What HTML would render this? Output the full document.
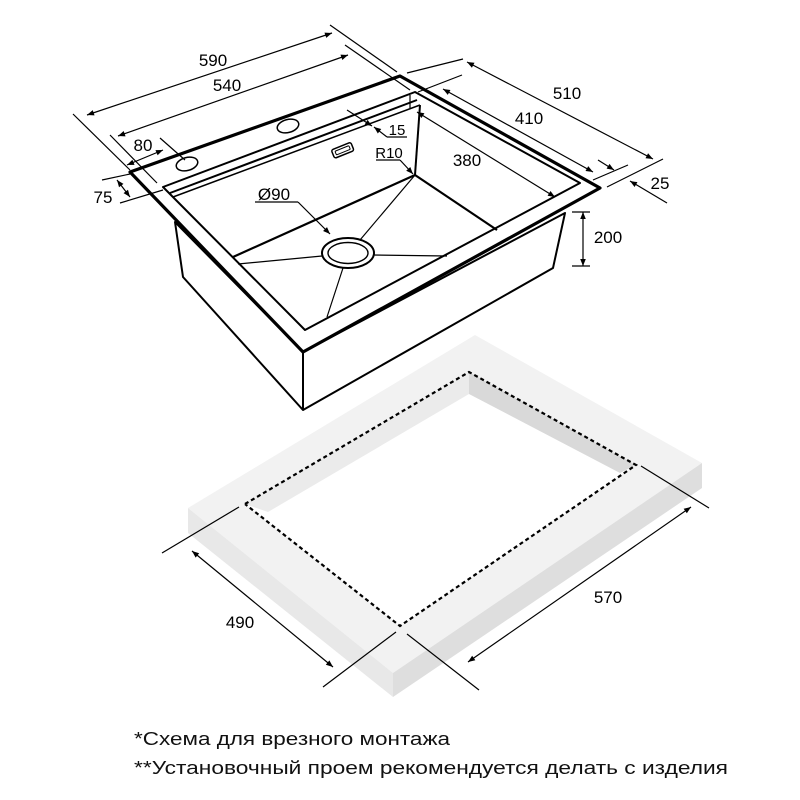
<!DOCTYPE html>
<html><head><meta charset="utf-8"><style>html,body{margin:0;padding:0;background:#fff}svg{display:block}</style></head>
<body>
<svg width="800" height="800" viewBox="0 0 800 800" xmlns="http://www.w3.org/2000/svg" font-family="Liberation Sans, DejaVu Sans, sans-serif">
<defs>
<marker id="a" viewBox="0 0 10 10" refX="10" refY="5" markerWidth="9" markerHeight="7" orient="auto-start-reverse" markerUnits="userSpaceOnUse"><path d="M0,1 L10,5 L0,9 z" fill="#000"/></marker>
</defs>
<!-- Countertop -->
<polygon points="188,508 475,335 702,463 393,673" fill="#f2f2f2"/>
<polygon points="188,508 393,673 393,697 188,533" fill="#e8e8e8"/>
<polygon points="393,673 702,463 702,488 393,697" fill="#dedede"/>
<polygon points="245,504 469,372 636,465 400,626" fill="#fff"/>
<polygon points="245,504 469,372 469,394 268,512" fill="#ebebeb"/>
<polygon points="469,372 636,465 620,473 469,394" fill="#d9d9d9"/>
<polyline points="245,504 469,372 636,465 400,626 245,504" fill="none" stroke="#000" stroke-width="2.2" stroke-dasharray="4,3"/>
<g stroke="#000" stroke-width="1.2" fill="none">
<line x1="162" y1="553" x2="239" y2="507"/>
<line x1="323" y1="687" x2="396" y2="632"/>
<line x1="192" y1="551" x2="333" y2="667" marker-start="url(#a)" marker-end="url(#a)"/>
<line x1="407" y1="634" x2="479" y2="690"/>
<line x1="641" y1="466" x2="709" y2="508"/>
<line x1="468" y1="662" x2="691" y2="507" marker-start="url(#a)" marker-end="url(#a)"/>
</g>
<text x="240" y="628" font-size="17" text-anchor="middle">490</text>
<text x="608" y="603" font-size="17" text-anchor="middle">570</text>
<!-- Sink bowl exterior -->
<g fill="#fff" stroke="#000" stroke-linejoin="round">
<polygon points="175,222 183,277 303,410 553,268 565,213 303,352" stroke-width="2"/>
<line x1="303" y1="352" x2="303" y2="410" stroke-width="2"/>
<polygon points="130,172 400,76 600,188 303,352" stroke-width="3.2"/>
<polygon points="163,187 415,92 580,183 305,330" stroke-width="2"/>
</g>
<g stroke="#000" fill="none">
<line x1="170" y1="193" x2="417" y2="100" stroke-width="2"/>
<line x1="173" y1="197" x2="420" y2="105" stroke-width="1.5"/>
<line x1="420" y1="105" x2="415" y2="175" stroke-width="2"/>
<line x1="415" y1="175" x2="233" y2="257" stroke-width="2.2"/>
<line x1="415" y1="175" x2="497" y2="230" stroke-width="2.2"/>
<line x1="410" y1="108" x2="410" y2="95" stroke-width="1.2"/>
<line x1="415" y1="175" x2="360" y2="240" stroke-width="1.2"/>
<line x1="238" y1="264" x2="322" y2="256" stroke-width="1.2"/>
<line x1="327" y1="317" x2="343" y2="268" stroke-width="1.2"/>
<line x1="373" y1="255" x2="447" y2="256" stroke-width="1.2"/>
</g>
<ellipse cx="348" cy="253" rx="26" ry="15" fill="#fff" stroke="#000" stroke-width="2"/>
<ellipse cx="348" cy="253" rx="20" ry="10.5" fill="#fff" stroke="#000" stroke-width="1.4"/>
<ellipse cx="187" cy="164" rx="11" ry="6.5" fill="#fff" stroke="#000" stroke-width="1.5" transform="rotate(-15 187 164)"/>
<ellipse cx="288" cy="126" rx="11" ry="6.5" fill="#fff" stroke="#000" stroke-width="1.5" transform="rotate(-15 288 126)"/>
<g transform="rotate(-22 342 150)" fill="none" stroke="#000"><rect x="332" y="146" width="21" height="9" rx="2" stroke-width="1.5"/><rect x="335" y="148.5" width="15" height="4" rx="1" stroke-width="1"/></g>
<g stroke="#000" stroke-width="1.2" fill="none">
<line x1="73" y1="114" x2="130" y2="170"/>
<line x1="330" y1="25" x2="397" y2="72"/>
<line x1="87" y1="115" x2="332" y2="33" marker-start="url(#a)" marker-end="url(#a)"/>
<line x1="110" y1="135" x2="157" y2="183"/>
<line x1="345" y1="45" x2="410" y2="90"/>
<line x1="118" y1="136" x2="348" y2="55" marker-start="url(#a)" marker-end="url(#a)"/>
<line x1="160" y1="138" x2="185" y2="160"/>
<line x1="127" y1="165" x2="163" y2="150" marker-start="url(#a)" marker-end="url(#a)"/>
<line x1="102" y1="180" x2="130" y2="174"/>
<line x1="120" y1="203" x2="163" y2="190"/>
<line x1="117" y1="180" x2="130" y2="197" marker-start="url(#a)" marker-end="url(#a)"/>
<line x1="347" y1="110" x2="372" y2="126" marker-end="url(#a)"/>
<line x1="407" y1="137" x2="387" y2="137"/>
<line x1="387" y1="137" x2="374" y2="127" marker-end="url(#a)"/>
<line x1="376" y1="160" x2="400" y2="160"/>
<line x1="400" y1="160" x2="413" y2="174" marker-end="url(#a)"/>
<line x1="255" y1="202" x2="298" y2="202"/>
<line x1="298" y1="202" x2="330" y2="234" marker-end="url(#a)"/>
<line x1="407" y1="73" x2="463" y2="59"/>
<line x1="467" y1="62" x2="653" y2="159" marker-start="url(#a)" marker-end="url(#a)"/>
<line x1="418" y1="92" x2="462" y2="75"/>
<line x1="443" y1="89" x2="593" y2="172" marker-start="url(#a)" marker-end="url(#a)"/>
<line x1="417" y1="112" x2="555" y2="197" marker-start="url(#a)" marker-end="url(#a)"/>
<line x1="593" y1="180" x2="628" y2="165"/>
<line x1="607" y1="187" x2="663" y2="159"/>
<line x1="598" y1="160" x2="614" y2="170" marker-end="url(#a)"/>
<line x1="667" y1="203" x2="630" y2="181" marker-end="url(#a)"/>
<line x1="572" y1="212" x2="590" y2="212"/>
<line x1="572" y1="266" x2="590" y2="266"/>
<line x1="583" y1="212" x2="583" y2="266" marker-start="url(#a)" marker-end="url(#a)"/>
</g>
<g font-size="17" text-anchor="middle">
<text x="213" y="66">590</text>
<text x="227" y="91">540</text>
<text x="143" y="151">80</text>
<text x="103" y="203">75</text>
<text x="397" y="135" font-size="15">15</text>
<text x="389" y="158" font-size="15">R10</text>
<text x="274" y="200">Ø90</text>
<text x="567" y="99">510</text>
<text x="529" y="124">410</text>
<text x="467" y="166">380</text>
<text x="660" y="189">25</text>
<text x="608" y="243">200</text>
</g>
<g font-size="18" fill="#111">
<text x="134" y="745" textLength="316" lengthAdjust="spacingAndGlyphs">*Схема для врезного монтажа</text>
<text x="134" y="774" textLength="594" lengthAdjust="spacingAndGlyphs">**Установочный проем рекомендуется делать с изделия</text>
</g>
</svg>
</body></html>
